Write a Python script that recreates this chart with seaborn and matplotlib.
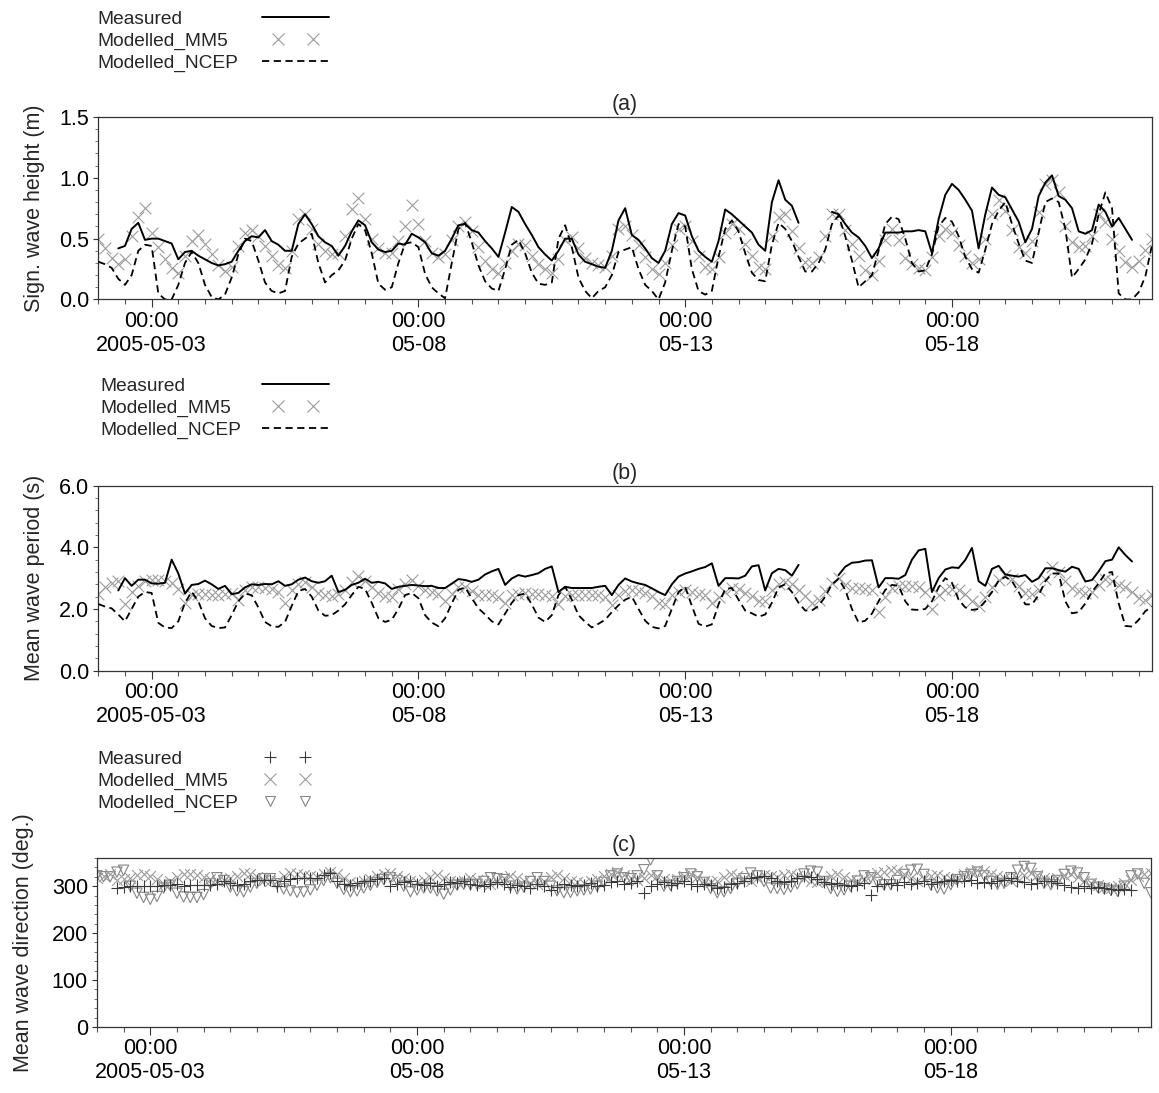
import numpy as np
import pandas as pd
import matplotlib
matplotlib.use('Agg')
import matplotlib.pyplot as plt
import matplotlib.ticker as mticker
import matplotlib.dates as mdates
from matplotlib.lines import Line2D
from matplotlib.legend_handler import HandlerLine2D
import seaborn as sns

nan = np.nan

# 3-hourly samples, starting 2005-05-02 00:00
start_time = '2005-05-02 00:00'
end_time = '2005-05-21 18:00'

# (a) significant wave height (m)
hs_meas = [nan, nan, nan, 0.42, 0.44, 0.58, 0.63, 0.49,
           0.50, 0.50, 0.48, 0.46, 0.33, 0.39, 0.40, 0.36,
           0.33, 0.30, 0.28, 0.29, 0.31, 0.40, 0.48, 0.52,
           0.51, 0.57, 0.48, 0.45, 0.40, 0.40, 0.62, 0.70,
           0.62, 0.52, 0.47, 0.44, 0.36, 0.44, 0.56, 0.65,
           0.61, 0.47, 0.41, 0.39, 0.40, 0.46, 0.45, 0.54,
           0.51, 0.47, 0.38, 0.36, 0.40, 0.50, 0.61, 0.62,
           0.57, 0.55, 0.48, 0.42, 0.35, 0.55, 0.76, 0.72,
           0.62, 0.53, 0.43, 0.37, 0.32, 0.40, 0.50, 0.50,
           0.37, 0.31, 0.29, 0.27, 0.26, 0.40, 0.65, 0.75,
           0.53, 0.49, 0.42, 0.34, 0.30, 0.40, 0.62, 0.71,
           0.69, 0.52, 0.40, 0.35, 0.31, 0.48, 0.74, 0.70,
           0.65, 0.60, 0.55, 0.45, 0.40, 0.80, 0.98, 0.82,
           0.77, 0.63, nan, nan, nan, nan, 0.72, 0.70,
           0.62, 0.55, 0.51, 0.44, 0.34, 0.42, 0.55, 0.55,
           0.55, 0.56, 0.56, 0.57, 0.56, 0.38, 0.66, 0.86,
           0.95, 0.90, 0.82, 0.73, 0.42, 0.70, 0.92, 0.86,
           0.84, 0.74, 0.64, 0.47, 0.58, 0.85, 0.96, 1.02,
           0.85, 0.82, 0.75, 0.56, 0.54, 0.57, 0.78, 0.72,
           0.60, 0.67, 0.58, 0.49, nan, nan, nan]
hs_mm5 = [0.50, 0.42, 0.34, 0.29, 0.33, 0.52, 0.68, 0.75,
          0.55, 0.43, 0.33, 0.26, 0.22, 0.36, 0.48, 0.53,
          0.46, 0.37, 0.28, 0.23, 0.27, 0.44, 0.55, 0.57,
          0.52, 0.44, 0.36, 0.28, 0.26, 0.40, 0.66, 0.70,
          0.58, 0.46, 0.40, 0.37, 0.38, 0.52, 0.74, 0.83,
          0.66, 0.50, 0.42, 0.38, 0.38, 0.48, 0.60, 0.78,
          0.62, 0.48, 0.38, 0.35, 0.37, 0.49, 0.60, 0.64,
          0.56, 0.43, 0.32, 0.25, 0.22, 0.30, 0.40, 0.46,
          0.45, 0.36, 0.29, 0.25, 0.22, 0.33, 0.49, 0.51,
          0.42, 0.34, 0.30, 0.28, 0.27, 0.36, 0.58, 0.60,
          0.53, 0.45, 0.35, 0.25, 0.21, 0.30, 0.45, 0.58,
          0.60, 0.48, 0.36, 0.27, 0.25, 0.35, 0.55, 0.62,
          0.58, 0.46, 0.36, 0.27, 0.25, 0.52, 0.68, 0.70,
          0.56, 0.42, 0.31, 0.30, 0.35, 0.52, 0.70, 0.70,
          0.57, 0.46, 0.36, 0.24, 0.20, 0.32, 0.49, 0.58,
          0.49, 0.34, 0.29, 0.26, 0.24, 0.35, 0.52, 0.58,
          0.55, 0.45, 0.36, 0.30, 0.33, 0.50, 0.70, 0.82,
          0.73, 0.57, 0.43, 0.38, 0.48, 0.72, 0.95, 0.98,
          0.88, 0.60, 0.47, 0.43, 0.44, 0.52, 0.70, 0.64,
          0.50, 0.40, 0.31, 0.27, 0.32, 0.41, 0.50]
hs_ncep = [0.31, 0.29, 0.26, 0.17, 0.12, 0.20, 0.40, 0.45,
           0.44, 0.05, 0.00, 0.00, 0.12, 0.30, 0.39, 0.30,
           0.12, 0.02, 0.00, 0.04, 0.18, 0.37, 0.50, 0.48,
           0.32, 0.14, 0.07, 0.05, 0.07, 0.35, 0.46, 0.50,
           0.54, 0.30, 0.14, 0.20, 0.24, 0.32, 0.50, 0.62,
           0.57, 0.38, 0.13, 0.08, 0.10, 0.30, 0.46, 0.47,
           0.43, 0.21, 0.10, 0.05, 0.01, 0.30, 0.58, 0.63,
           0.47, 0.28, 0.15, 0.09, 0.07, 0.25, 0.45, 0.49,
           0.38, 0.22, 0.13, 0.12, 0.14, 0.50, 0.61, 0.43,
           0.18, 0.07, 0.01, 0.07, 0.10, 0.20, 0.39, 0.41,
           0.43, 0.25, 0.12, 0.07, 0.00, 0.14, 0.40, 0.62,
           0.60, 0.25, 0.07, 0.04, 0.07, 0.35, 0.58, 0.65,
           0.56, 0.38, 0.22, 0.16, 0.15, 0.45, 0.63, 0.58,
           0.48, 0.35, 0.23, 0.23, 0.30, 0.41, 0.62, 0.69,
           0.52, 0.32, 0.10, 0.15, 0.20, 0.40, 0.62, 0.68,
           0.66, 0.50, 0.30, 0.23, 0.24, 0.37, 0.60, 0.67,
           0.64, 0.52, 0.35, 0.25, 0.22, 0.41, 0.62, 0.73,
           0.80, 0.62, 0.46, 0.32, 0.30, 0.55, 0.80, 0.83,
           0.80, 0.58, 0.18, 0.25, 0.33, 0.46, 0.70, 0.88,
           0.75, 0.05, 0.00, 0.00, 0.06, 0.19, 0.45]

# (b) mean wave period (s)
tm_meas = [nan, nan, nan, 2.60, 3.00, 2.75, 2.95, 2.95,
           2.83, 2.82, 2.85, 3.60, 3.15, 2.50, 2.78, 2.81,
           2.92, 2.80, 2.65, 2.75, 2.48, 2.52, 2.70, 2.80,
           2.78, 2.81, 2.80, 2.90, 2.75, 2.80, 2.95, 3.02,
           2.90, 2.85, 2.90, 3.08, 2.55, 2.62, 2.78, 2.85,
           2.98, 2.85, 2.88, 2.83, 2.65, 2.72, 2.75, 2.78,
           2.76, 2.74, 2.75, 2.68, 2.68, 2.82, 2.97, 2.94,
           2.88, 2.95, 3.12, 3.22, 3.30, 2.78, 2.99, 3.10,
           3.05, 3.10, 3.16, 3.30, 3.38, 2.55, 2.72, 2.68,
           2.68, 2.68, 2.68, 2.72, 2.75, 2.45, 2.78, 2.99,
           2.89, 2.83, 2.78, 2.67, 2.55, 2.45, 2.80, 3.05,
           3.15, 3.22, 3.30, 3.36, 3.48, 2.75, 3.00, 3.00,
           2.99, 3.08, 3.38, 3.42, 2.60, 3.16, 3.30, 3.26,
           3.08, 3.43, nan, nan, nan, nan, nan, 3.10,
           3.37, 3.50, 3.52, 3.57, 3.58, 2.70, 3.00, 3.00,
           2.98, 3.10, 3.60, 3.90, 3.95, 2.55, 3.00, 3.28,
           3.35, 3.33, 3.59, 3.98, 2.90, 2.75, 3.30, 3.40,
           3.12, 3.08, 3.05, 3.10, 2.88, 3.00, 3.32, 3.32,
           3.26, 3.21, 3.37, 3.30, 2.89, 2.94, 3.22, 3.55,
           3.60, 4.00, 3.75, 3.54, nan, nan, nan]
tm_mm5 = [2.50, 2.70, 2.85, 2.92, 2.15, 2.55, 2.75, 2.92,
          2.95, 2.95, 2.90, 2.83, 2.65, 2.20, 2.45, 2.50,
          2.48, 2.46, 2.46, 2.50, 2.53, 2.28, 2.60, 2.70,
          2.72, 2.68, 2.65, 2.55, 2.18, 2.60, 2.82, 2.88,
          2.72, 2.52, 2.45, 2.42, 2.50, 2.62, 2.88, 3.08,
          2.92, 2.70, 2.52, 2.42, 2.40, 2.66, 2.80, 2.95,
          2.74, 2.60, 2.55, 2.50, 2.25, 2.50, 2.70, 2.72,
          2.58, 2.45, 2.45, 2.44, 2.40, 2.18, 2.45, 2.50,
          2.51, 2.50, 2.47, 2.45, 2.42, 2.15, 2.42, 2.45,
          2.45, 2.45, 2.45, 2.45, 2.40, 2.13, 2.45, 2.57,
          2.62, 2.58, 2.53, 2.42, 2.20, 2.15, 2.45, 2.56,
          2.60, 2.56, 2.50, 2.46, 2.18, 2.40, 2.56, 2.67,
          2.64, 2.53, 2.42, 2.25, 2.25, 2.62, 2.80, 2.88,
          2.80, 2.60, 2.42, 2.20, 2.30, 2.58, 2.83, 3.00,
          2.78, 2.67, 2.67, 2.65, 2.60, 1.90, 2.40, 2.67,
          2.76, 2.75, 2.74, 2.70, 2.55, 2.00, 2.45, 2.62,
          2.65, 2.60, 2.48, 2.25, 2.10, 2.40, 2.72, 2.95,
          3.10, 2.98, 2.75, 2.52, 2.48, 2.60, 2.98, 3.35,
          3.20, 2.90, 2.67, 2.57, 2.51, 2.56, 2.78, 2.98,
          2.90, 2.78, 2.72, 2.56, 2.35, 2.30, 2.45]
tm_ncep = [2.16, 2.08, 2.02, 1.82, 1.60, 2.00, 2.40, 2.55,
           2.52, 1.55, 1.40, 1.38, 1.60, 2.20, 2.56, 2.25,
           1.70, 1.45, 1.38, 1.40, 1.80, 2.25, 2.50, 2.45,
           2.05, 1.58, 1.44, 1.42, 1.58, 2.10, 2.58, 2.65,
           2.40, 1.95, 1.78, 1.80, 1.95, 2.15, 2.45, 2.72,
           2.65, 2.20, 1.70, 1.58, 1.65, 2.00, 2.45, 2.52,
           2.35, 1.80, 1.56, 1.44, 1.70, 2.18, 2.62, 2.70,
           2.35, 2.02, 1.82, 1.60, 1.50, 1.85, 2.20, 2.45,
           2.50, 2.15, 1.72, 1.58, 1.80, 2.45, 2.72, 2.30,
           1.80, 1.58, 1.40, 1.52, 1.65, 1.90, 2.12, 2.30,
           2.40, 2.00, 1.62, 1.42, 1.37, 1.45, 2.00, 2.55,
           2.72, 2.10, 1.52, 1.43, 1.50, 2.15, 2.65, 2.68,
           2.30, 1.95, 1.86, 1.75, 1.82, 2.20, 2.70, 2.80,
           2.55, 2.20, 1.95, 1.95, 2.10, 2.40, 2.80, 2.98,
           2.62, 2.00, 1.56, 1.62, 1.85, 2.25, 2.62, 2.78,
           2.75, 2.25, 1.98, 1.97, 2.00, 2.25, 2.70, 3.00,
           2.85, 2.30, 2.05, 1.97, 2.00, 2.25, 2.55, 2.92,
           3.04, 2.90, 2.55, 2.15, 2.15, 2.45, 2.90, 3.15,
           3.15, 2.25, 1.86, 1.90, 2.18, 2.56, 2.83, 3.16,
           3.20, 2.18, 1.45, 1.43, 1.65, 1.93, 2.08]

# (c) mean wave direction (deg.)
dir_meas = [nan, nan, nan, 296, 298, 300, 300, 300,
            301, 300, 302, 303, 305, 300, 303, 302,
            303, 302, 305, 310, 306, 303, 305, 312,
            314, 313, 314, 300, 310, 316, 318, 318,
            317, 318, 324, 329, 312, 305, 303, 306,
            310, 311, 316, 318, 300, 305, 308, 312,
            305, 302, 306, 300, 304, 308, 306, 310,
            305, 302, 300, 304, 308, 305, 298, 302,
            300, 296, 304, 300, 292, 298, 304, 302,
            300, 303, 306, 300, 302, 308, 312, 305,
            306, 310, 286, 300, 304, 308, 302, 306,
            310, 304, 300, 305, 302, 296, 298, 304,
            306, 310, 318, 320, 322, 318, 310, 308,
            312, 318, 322, 320, 315, 308, 305, 306,
            303, 300, 303, 306, 282, 300, 304, 306,
            302, 308, 304, 306, 310, 305, 308, 312,
            314, 310, 312, 314, 306, 308, 306, 310,
            314, 318, 312, 308, 305, 306, 310, 312,
            306, 302, 298, 296, 300, 296, 298, 296,
            294, 292, 294, 292, nan, nan, nan]
dir_mm5 = [318, 322, 325, 313, 316, 318, 324, 326,
           322, 316, 305, 312, 320, 325, 326, 324,
           320, 315, 310, 314, 318, 322, 328, 326,
           320, 314, 310, 312, 322, 328, 326, 324,
           322, 320, 325, 330, 326, 318, 308, 304,
           310, 316, 322, 326, 328, 322, 318, 312,
           308, 314, 320, 324, 318, 312, 308, 312,
           318, 314, 306, 304, 310, 318, 322, 318,
           312, 306, 304, 312, 320, 324, 318, 312,
           308, 306, 310, 316, 322, 326, 330, 324,
           318, 314, 318, 324, 322, 316, 312, 316,
           322, 326, 320, 312, 308, 312, 320, 326,
           322, 316, 312, 318, 324, 322, 320, 324,
           326, 322, 318, 312, 308, 314, 322, 326,
           320, 314, 310, 316, 324, 328, 330, 334,
           332, 326, 318, 312, 316, 322, 324, 320,
           316, 318, 326, 330, 334, 332, 326, 322,
           318, 312, 318, 324, 328, 324, 318, 314,
           318, 324, 326, 320, 312, 306, 302, 298,
           296, 300, 306, 314, 322, 326, 328]
dir_ncep = [322, 320, 320, 330, 334, 300, 285, 276,
            272, 278, 296, 302, 285, 277, 276, 276,
            282, 305, 318, 312, 298, 290, 288, 298,
            306, 316, 316, 305, 294, 290, 287, 288,
            292, 302, 312, 318, 306, 293, 288, 290,
            296, 302, 308, 314, 318, 312, 300, 288,
            292, 296, 296, 290, 283, 292, 302, 304,
            303, 304, 310, 318, 316, 314, 300, 294,
            298, 310, 318, 310, 300, 290, 286, 287,
            290, 292, 294, 300, 308, 322, 326, 318,
            316, 322, 335, 356, 322, 300, 302, 310,
            318, 326, 320, 308, 295, 286, 288, 295,
            306, 316, 328, 322, 310, 296, 295, 293,
            298, 305, 326, 332, 330, 310, 295, 289,
            292, 300, 311, 322, 318, 308, 303, 303,
            312, 325, 334, 336, 325, 303, 296, 294,
            303, 314, 320, 325, 330, 322, 310, 304,
            306, 318, 334, 342, 338, 320, 306, 303,
            312, 325, 332, 328, 318, 304, 298, 294,
            291, 289, 300, 322, 326, 306, 286]

series_labels = ['Measured', 'Modelled_MM5', 'Modelled_NCEP']
tick_dates = ['2005-05-03', '2005-05-08', '2005-05-13', '2005-05-18']
tick_labels = ['00:00\n2005-05-03', '00:00\n05-08', '00:00\n05-13', '00:00\n05-18']

times = pd.date_range(start_time, periods=len(hs_meas), freq='3h')

sns.set_theme(style='ticks')
plt.rcParams['font.family'] = ['Liberation Sans', 'DejaVu Sans']

FS = 15.5
LFS = 13.8
MM5_GREY = '#9c9c9c'
NCEP_GREY = '#858585'
dash = (0, (4, 2.5))

fig = plt.figure(figsize=(11.59, 10.93), dpi=100)
ax_a = fig.add_axes([0.0848, 0.7260, 0.9092, 0.1670])
ax_b = fig.add_axes([0.0848, 0.3864, 0.9092, 0.1693])
ax_c = fig.add_axes([0.0836, 0.0604, 0.9094, 0.1546])


def line_panel(ax, meas, mm5, ncep):
    df = pd.DataFrame({'time': times, 'meas': meas, 'mm5': mm5, 'ncep': ncep})
    df['seg'] = df['meas'].isna().cumsum()
    sns.scatterplot(data=df, x='time', y='mm5', marker='x', s=70, color=MM5_GREY,
                    linewidth=0.8, ax=ax, zorder=2)
    sns.lineplot(data=df.dropna(subset=['meas']), x='time', y='meas', units='seg',
                 estimator=None, color='black', linewidth=1.4, ax=ax, zorder=3)
    sns.lineplot(data=df, x='time', y='ncep', color='black', linewidth=1.3,
                 linestyle=dash, ax=ax, zorder=3)


def marker_panel(ax, meas, mm5, ncep):
    df = pd.DataFrame({'time': times, 'meas': meas, 'mm5': mm5, 'ncep': ncep})
    sns.scatterplot(data=df, x='time', y='ncep', marker='v', s=55, facecolor='none',
                    edgecolor=NCEP_GREY, linewidth=0.8, ax=ax, zorder=2)
    sns.scatterplot(data=df, x='time', y='mm5', marker='x', s=60, color=MM5_GREY,
                    linewidth=0.8, ax=ax, zorder=2)
    sns.scatterplot(data=df, x='time', y='meas', marker='+', s=70, color='#3a3a3a',
                    linewidth=0.8, ax=ax, zorder=3)


def style_axes(ax, title, ylabel, yticks, ylabels, yminor, ylim, labelx):
    ax.set_xlim(pd.Timestamp(start_time), pd.Timestamp(end_time))
    ax.set_ylim(*ylim)
    ax.set_xticks(pd.to_datetime(tick_dates))
    ax.set_xticklabels(tick_labels)
    ax.xaxis.set_minor_locator(mdates.HourLocator(byhour=[0, 12]))
    ax.set_yticks(yticks)
    ax.set_yticklabels(ylabels)
    ax.yaxis.set_minor_locator(mticker.MultipleLocator(yminor))
    ax.tick_params(axis='x', which='major', length=6, width=0.8, pad=2,
                   labelsize=FS, colors='#333333', labelcolor='black')
    ax.tick_params(axis='x', which='minor', length=3.5, width=0.8, colors='#555555')
    ax.tick_params(axis='y', which='major', length=3.5, width=0.8, pad=3,
                   labelsize=FS, colors='#333333', labelcolor='black')
    ax.tick_params(axis='y', which='minor', length=2.5, width=0.7, colors='#777777')
    for sp in ax.spines.values():
        sp.set_color('#333333')
        sp.set_linewidth(0.9)
    ax.set_xlabel('')
    ax.set_ylabel(ylabel, fontsize=FS)
    ax.yaxis.set_label_coords(labelx, 0.5)
    ax.set_title(title, fontsize=FS, pad=5)


def add_legend(handles, pads, x_text, x_handle, y_top):
    common = dict(loc='upper left', bbox_transform=fig.transFigure, frameon=False,
                  fontsize=LFS, labelspacing=0.23, borderaxespad=0, borderpad=0)
    lab = fig.legend(handles, series_labels, bbox_to_anchor=(x_text, y_top),
                     handlelength=0, handletextpad=0, **common)
    for h in lab.legend_handles:
        h.set_visible(False)
    hmap = {h: HandlerLine2D(marker_pad=p) for h, p in zip(handles, pads)}
    fig.legend(handles, [' '] * len(handles), bbox_to_anchor=(x_handle, y_top),
               handlelength=3.5, handletextpad=0, numpoints=2,
               handler_map=hmap, **common)


line_panel(ax_a, hs_meas, hs_mm5, hs_ncep)
style_axes(ax_a, '(a)', 'Sign. wave height (m)', [0, 0.5, 1.0, 1.5],
           ['0.0', '0.5', '1.0', '1.5'], 0.1, (0, 1.5), -0.051)

line_panel(ax_b, tm_meas, tm_mm5, tm_ncep)
style_axes(ax_b, '(b)', 'Mean wave period (s)', [0, 2, 4, 6],
           ['0.0', '2.0', '4.0', '6.0'], 0.4, (0, 6), -0.051)

marker_panel(ax_c, dir_meas, dir_mm5, dir_ncep)
style_axes(ax_c, '(c)', 'Mean wave direction (deg.)', [0, 100, 200, 300],
           ['0', '100', '200', '300'], 20, (0, 360), -0.060)


def make_line_handles():
    return [
        Line2D([], [], color='black', linewidth=1.4),
        Line2D([], [], color=MM5_GREY, linestyle='none', marker='x', markersize=8,
               markeredgewidth=0.8),
        Line2D([], [], color='black', linewidth=1.3, linestyle=dash),
    ]


marker_handles = [
    Line2D([], [], color='#3a3a3a', linestyle='none', marker='+', markersize=8,
           markeredgewidth=0.8),
    Line2D([], [], color=MM5_GREY, linestyle='none', marker='x', markersize=8,
           markeredgewidth=0.8),
    Line2D([], [], color=NCEP_GREY, linestyle='none', marker='v', markersize=7,
           markerfacecolor='none', markeredgewidth=0.8),
]

add_legend(make_line_handles(), [0.0, 0.85, 0.0], 0.0837, 0.226, 0.9904)
add_legend(make_line_handles(), [0.0, 0.85, 0.0], 0.0863, 0.226, 0.6546)
add_legend(marker_handles, [0.85, 0.85, 0.85], 0.0837, 0.219, 0.3133)

fig.savefig('out.png', dpi=100)
